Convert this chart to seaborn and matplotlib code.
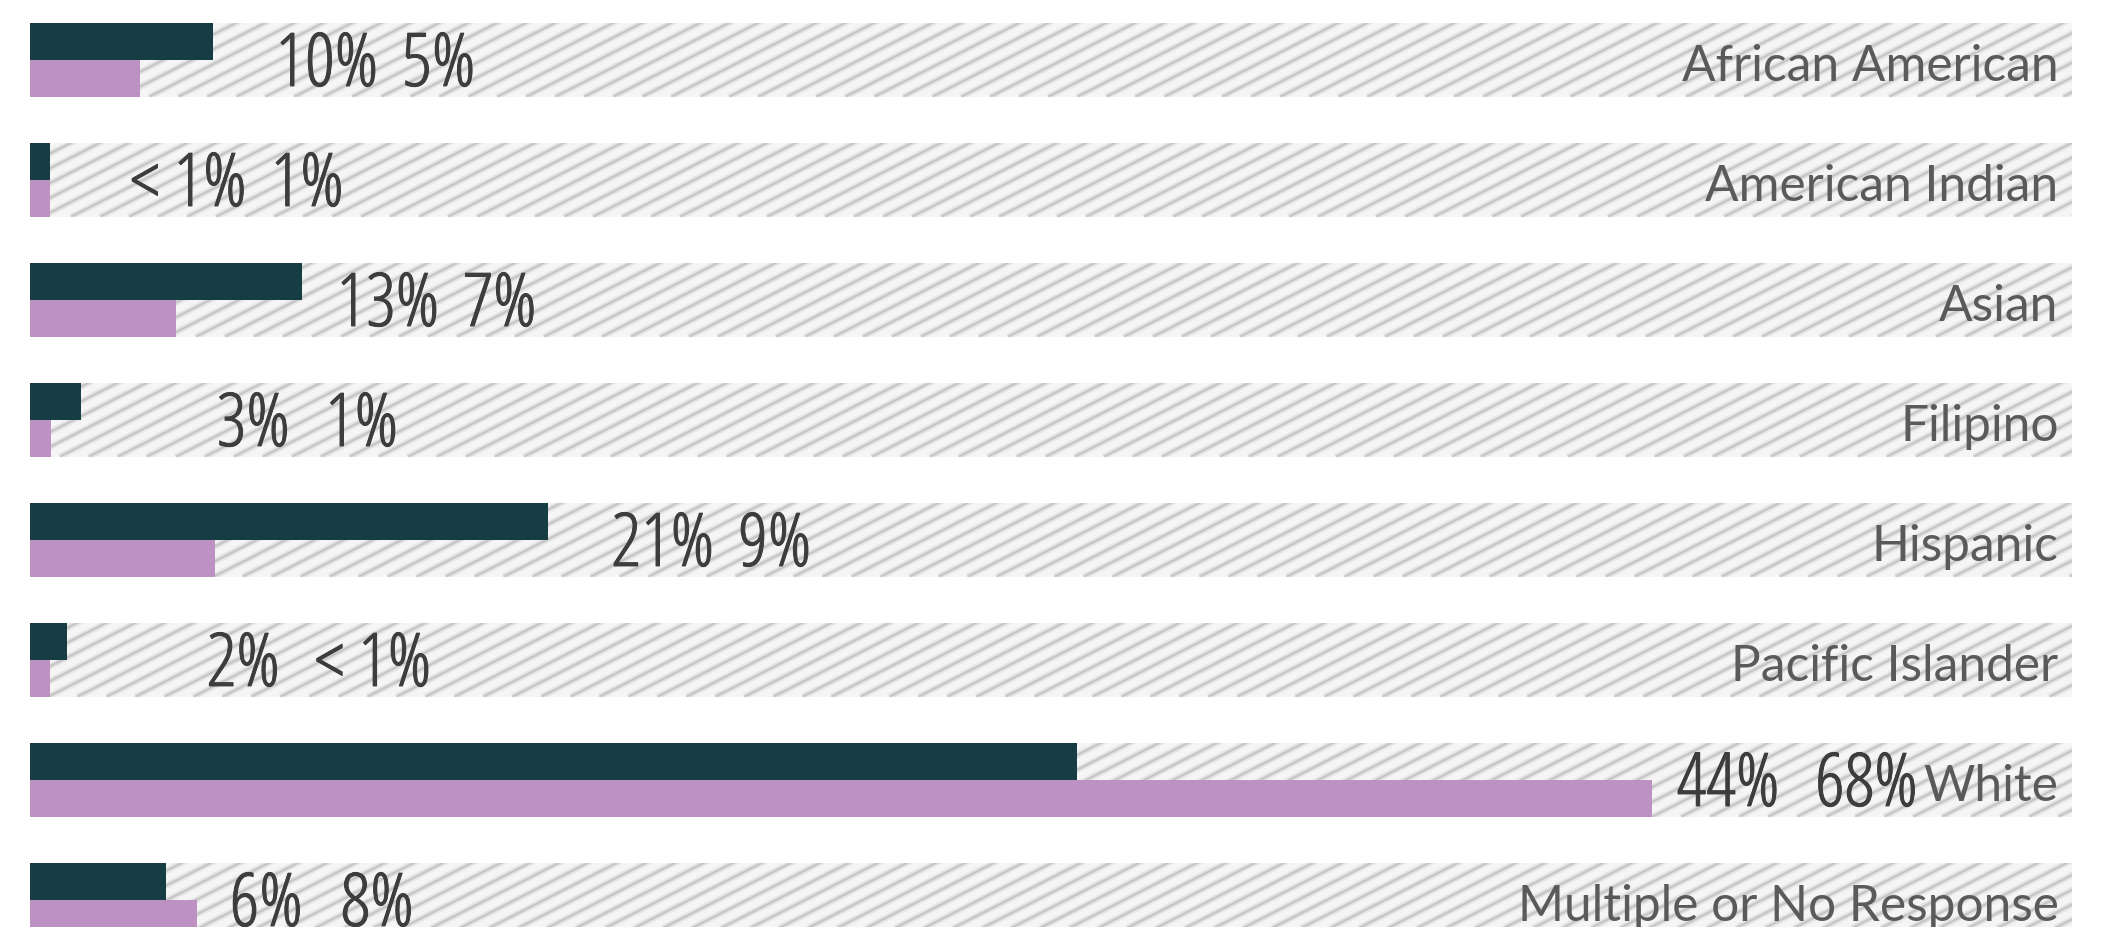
import numpy as np
import pandas as pd
import matplotlib
matplotlib.use("Agg")
import matplotlib.pyplot as plt
from matplotlib.patches import Rectangle
from matplotlib.collections import LineCollection
from matplotlib import font_manager
from matplotlib.font_manager import FontProperties
from matplotlib.textpath import TextPath
from matplotlib.ft2font import FT2Font
import matplotlib.patheffects as pe
import seaborn as sns

# ---------------- data ----------------
categories = ["African American", "American Indian", "Asian", "Filipino",
              "Hispanic", "Pacific Islander", "White", "Multiple or No Response"]
group_a_values = [7.68, 0.88, 11.43, 2.16, 21.76, 1.56, 43.94, 5.74]
group_b_values = [4.65, 0.88, 6.14, 0.90, 7.77, 0.88, 68.04, 7.01]
group_a_labels = ["10%", "< 1%", "13%", "3%", "21%", "2%", "44%", "6%"]
group_b_labels = ["5%", "1%", "7%", "1%", "9%", "< 1%", "68%", "8%"]
groups = ["Group A", "Group B"]

# ---------------- style ----------------
DARK = "#163c44"
PURPLE = "#bd92c3"
BAND = "#f5f5f5"
PCT_COLOR = "#3d3d3d"
CAT_COLOR = "#5a5a5a"

sns.set_theme(style="white")
names = {f.name for f in font_manager.fontManager.ttflist}
cat_family = ["Lato"] if "Lato" in names else ["Open Sans", "DejaVu Sans"]
plt.rcParams["font.family"] = cat_family + ["DejaVu Sans"]


# pick the narrowest installed sans font for the condensed percentage labels
def _weight(w):
    if isinstance(w, (int, float)):
        return w
    return font_manager.weight_dict.get(str(w).lower(), 400)


NEEDED = "0123456789%< "
best = None
for f in font_manager.fontManager.ttflist:
    if not any(f.name.startswith(p) for p in ("DejaVu Sans", "Liberation Sans", "Noto Sans",
                                              "Roboto", "Open Sans", "Lato", "Inter")):
        continue
    if "CJK" in f.name or "Mono" in f.name or f.style != "normal":
        continue
    if not (300 <= _weight(f.weight) <= 600):
        continue
    try:
        cmap = FT2Font(f.fname).get_charmap()
        if not all(ord(ch) in cmap for ch in NEEDED):
            continue
        fp = FontProperties(fname=f.fname)
        ext = TextPath((0, 0), "10%", size=100, prop=fp).get_extents()
        ratio = ext.width / ext.height
    except Exception:
        continue
    if best is None or ratio < best[0]:
        best = (ratio, f.fname, ext.height / 100.0)

pct_prop = FontProperties(fname=best[1]) if best else FontProperties(family="DejaVu Sans")
pct_ratio = best[0] if best else 2.9
pct_hfrac = best[2] if best else 0.76

W, H = 2128, 928
fig = plt.figure(figsize=(W / 100, H / 100), dpi=100)
ax = fig.add_axes([0, 0, 1, 1])

# pixel geometry -> data mapping
PX_PER_UNIT = 23.84
X0_PX = 29.5
ROW_PX = 120.0
ROW0_PX = 60.8
BAND_W = 0.614
BAND_END = (2072 - X0_PX) / PX_PER_UNIT


def px2x(px):
    return (px - X0_PX) / PX_PER_UNIT


df = pd.DataFrame({
    "category": categories * 2,
    "group": [groups[0]] * len(categories) + [groups[1]] * len(categories),
    "value": group_a_values + group_b_values,
})

sns.barplot(data=df, y="category", x="value", hue="group", orient="h",
            palette=[DARK, PURPLE], saturation=1, width=BAND_W, gap=0,
            linewidth=0, ax=ax, legend=False, zorder=3)

ax.set_xlim(px2x(0), px2x(W))
ax.set_ylim((H - ROW0_PX) / ROW_PX, -ROW0_PX / ROW_PX)

# striped background bands
n = len(categories)
slope = -0.51 * PX_PER_UNIT / ROW_PX
spacing = 29.0 / PX_PER_UNIT
for i in range(n):
    band = Rectangle((0, i - BAND_W / 2), BAND_END, BAND_W, facecolor=BAND,
                     edgecolor="none", zorder=0)
    ax.add_patch(band)
    yb = i + BAND_W / 2
    L = 12.0
    starts = np.arange(-12, BAND_END + 2, spacing) + (i * 0.37) % spacing
    segs = [[(x, yb), (x + L, yb + slope * L)] for x in starts]
    for lw, col in [(6.5, "#e9e9e9"), (3.6, "#d8d8d8"), (1.6, "#c4c4c4")]:
        lc = LineCollection(segs, colors=col, linewidths=lw * 0.72, zorder=1,
                            capstyle="butt")
        ax.add_collection(lc)
        lc.set_clip_path(band)

# percentage labels
label1_px = [275.5, 130, 336.5, 216.7, 611.4, 206.7, 1676.7, 229.6]
label2_px = [401.8, 266.7, 458.7, 325, 734.8, 314.6, 1815, 340.6]
TARGET_H = 56.0
MAX_W = 94.0
em_px = TARGET_H / pct_hfrac
if pct_ratio * TARGET_H > MAX_W:
    em_px = (MAX_W / pct_ratio) / pct_hfrac
pct_size = em_px * 0.72
cap_px = em_px * pct_hfrac
pct_base = (cap_px / 2.0 - 1) / ROW_PX
thicken = [pe.withStroke(linewidth=0.7, foreground=PCT_COLOR)]

fig.canvas.draw()
r = fig.canvas.get_renderer()
for i in range(n):
    t1 = ax.text(px2x(label1_px[i]), i + pct_base, group_a_labels[i], ha="left",
                 va="baseline", fontproperties=pct_prop, fontsize=pct_size,
                 color=PCT_COLOR, zorder=5, path_effects=thicken)
    end1 = t1.get_window_extent(r).x1
    x2 = max(label2_px[i], end1 + 24)
    ax.text(px2x(x2), i + pct_base, group_b_labels[i], ha="left",
            va="baseline", fontproperties=pct_prop, fontsize=pct_size,
            color=PCT_COLOR, zorder=5, path_effects=thicken)

# category labels on the right, fitted to reference widths
cat_x = px2x(2058.6)
cat_base = 20.0 / ROW_PX
cat_texts = []
for i, c in enumerate(categories):
    t = ax.text(cat_x, i + cat_base, c, ha="right", va="baseline", fontsize=40,
                color=CAT_COLOR, zorder=5)
    cat_texts.append(t)

fig.canvas.draw()
r = fig.canvas.get_renderer()
targets = {0: 376.0, 7: 541.0}
ratios = [targets[k] / cat_texts[k].get_window_extent(r).width for k in targets]
new_size = 40 * float(np.mean(ratios))
for t in cat_texts:
    t.set_fontsize(new_size)

ax.axis("off")
fig.patch.set_facecolor("white")

fig.savefig("out.png", dpi=100, facecolor="white")
